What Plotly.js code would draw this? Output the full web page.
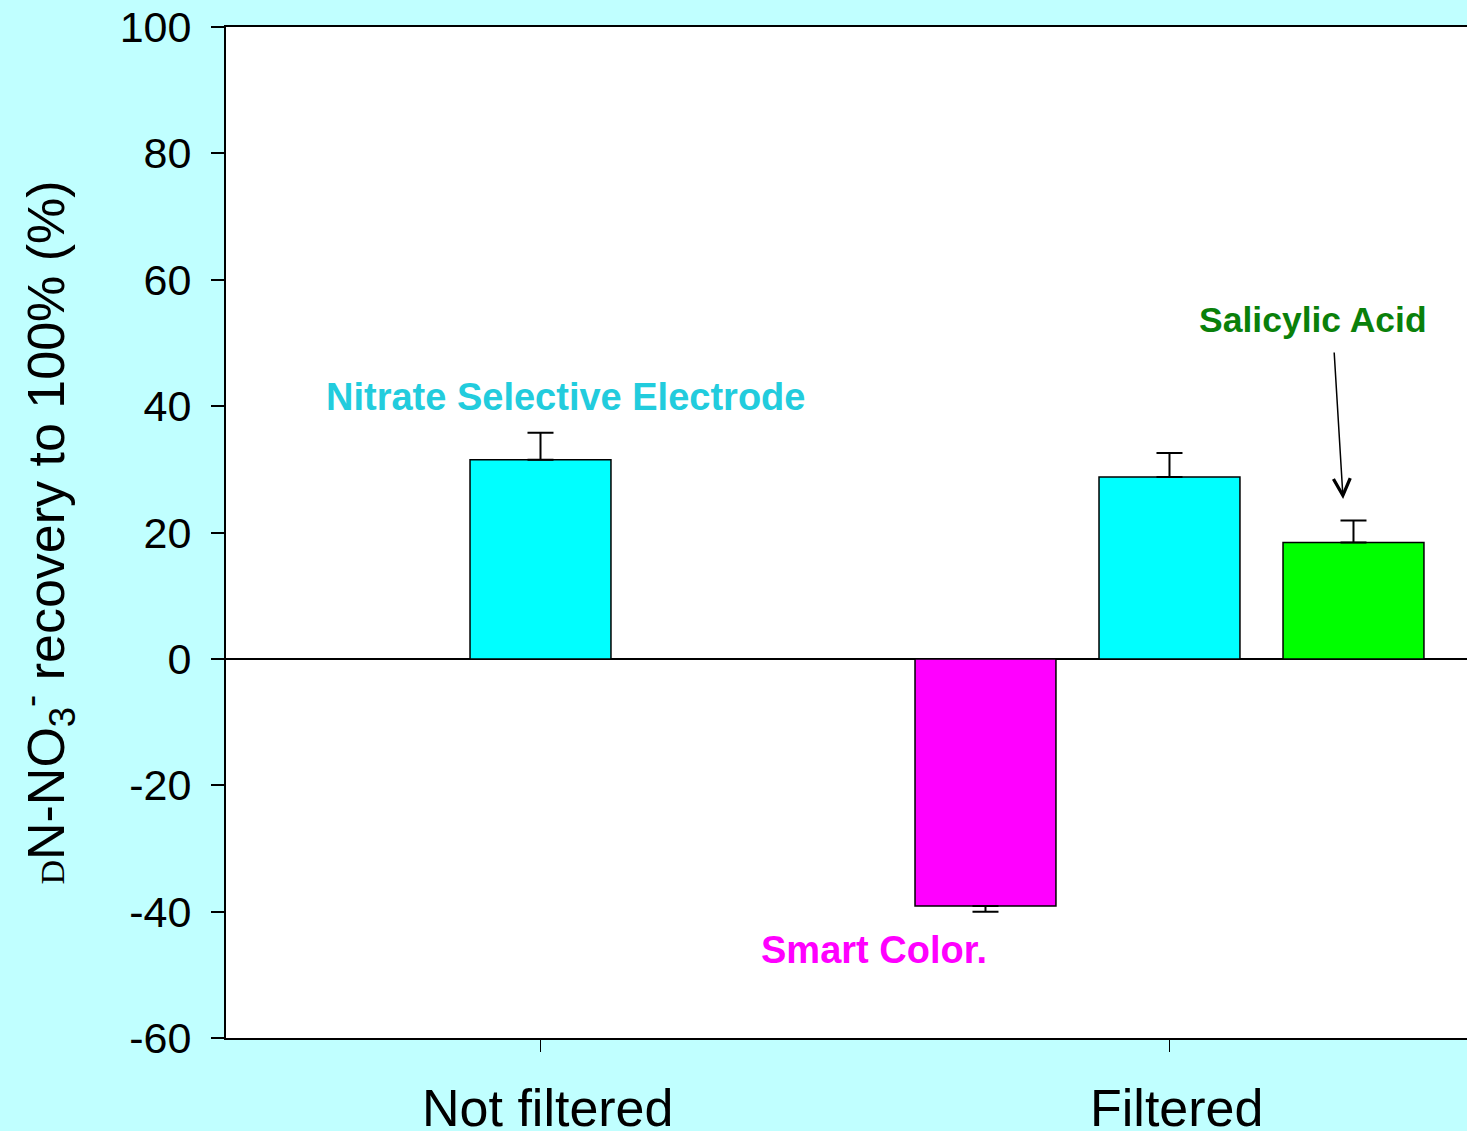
<!DOCTYPE html>
<html>
<head>
<meta charset="utf-8">
<script src="https://cdn.plot.ly/plotly-3.0.1.min.js"></script>
<style>html,body{margin:0;padding:0;background:#C0FFFF;}#chart{width:1467px;height:1131px;}</style>
</head>
<body>
<div id="chart"></div>
<script>
// Data
const groups = ["Not filtered", "Filtered"];
const groupLabels = ["\u00a0Not filtered", "\u00a0Filtered"];
const smartColor = [null, -39.1];
const smartColorErrMinus = [0, 0.9];
const electrode = [31.5, 28.8];
const electrodeErrPlus = [4.3, 3.8];
const salicylic = [null, 18.4];
const salicylicErrPlus = [0, 3.5];
const yTicks = [-60, -40, -20, 0, 20, 40, 60, 80, 100];
const yTickLabels = ["-60", "-40", "-20", "0", "20", "40", "60", "80", "100"];

const barLine = {color: "#000000", width: 1.5};
const errStyle = {color: "#000000", thickness: 2, width: 13};

const traces = [
  {
    type: "bar", name: "Smart Color.", x: groups, y: smartColor,
    marker: {color: "#FF00FF", line: barLine},
    error_y: Object.assign({type: "data", symmetric: false, array: [0, 0], arrayminus: smartColorErrMinus, visible: true}, errStyle)
  },
  {
    type: "bar", name: "Nitrate Selective Electrode", x: groups, y: electrode,
    marker: {color: "#00FFFF", line: barLine},
    error_y: Object.assign({type: "data", symmetric: false, array: electrodeErrPlus, arrayminus: [0, 0], visible: true}, errStyle)
  },
  {
    type: "bar", name: "Salicylic Acid", x: groups, y: salicylic,
    marker: {color: "#00FF00", line: barLine},
    error_y: Object.assign({type: "data", symmetric: false, array: salicylicErrPlus, arrayminus: [0, 0], visible: true}, errStyle)
  }
];

const layout = {
  width: 1467, height: 1131,
  paper_bgcolor: "#C0FFFF",
  plot_bgcolor: "#FFFFFF",
  margin: {l: 226, r: 0, t: 27, b: 93},
  showlegend: false,
  barmode: "group",
  bargap: 0.1224,
  bargroupgap: 0.234,
  font: {family: "Liberation Sans, Arial, sans-serif", color: "#000000"},
  xaxis: {
    type: "category",
    range: [-0.5, 1.473],
    tickvals: groups, ticktext: groupLabels,
    showline: true, linecolor: "#000000", linewidth: 2, mirror: true,
    ticks: "outside", ticklen: 12, tickwidth: 1.5, tickcolor: "#000000",
    tickfont: {size: 52, family: "Liberation Sans, Arial, sans-serif", color: "#000000"},
    showgrid: false, zeroline: false,
    ticklabelstandoff: 12
  },
  yaxis: {
    range: [-60, 100],
    tickvals: yTicks, ticktext: yTickLabels,
    showline: true, linecolor: "#000000", linewidth: 2,
    ticks: "outside", ticklen: 13, tickwidth: 2, tickcolor: "#000000",
    tickfont: {size: 43, family: "Liberation Sans, Arial, sans-serif", color: "#000000"},
    showgrid: false,
    zeroline: true, zerolinecolor: "#000000", zerolinewidth: 2,
    ticklabelstandoff: 11,
    title: {
      text: '<span style="font-family:Liberation Serif;font-size:34px">D</span>N-NO<sub>3</sub><sup>-</sup> recovery to 100% (%)',
      font: {size: 52, family: "Liberation Sans, Arial, sans-serif", color: "#000000"},
      standoff: 38
    }
  },
  annotations: [
    {
      text: "<b>Nitrate Selective Electrode</b>", xref: "x", yref: "y",
      x: 0.04, y: 41.5, showarrow: false,
      font: {size: 38, color: "#22CCDD", family: "Liberation Sans, Arial, sans-serif"}
    },
    {
      text: "<b>Smart Color.</b>", xref: "x", yref: "y",
      x: 0.53, y: -46.0, showarrow: false,
      font: {size: 38, color: "#FF00FF", family: "Liberation Sans, Arial, sans-serif"}
    },
    {
      text: "<b>Salicylic Acid</b>", xref: "x", yref: "y",
      x: 1.228, y: 53.7, showarrow: false,
      font: {size: 35.5, color: "#0A800A", family: "Liberation Sans, Arial, sans-serif"}
    },
    {
      text: "", xref: "x", yref: "y",
      x: 1.276, y: 25.3, showarrow: true,
      ax: -9, ay: -148,
      arrowhead: 5, arrowsize: 2.2, arrowwidth: 1.5, arrowcolor: "#000000"
    }
  ]
};

Plotly.newPlot("chart", traces, layout, {displayModeBar: false, staticPlot: true});
</script>
</body>
</html>
